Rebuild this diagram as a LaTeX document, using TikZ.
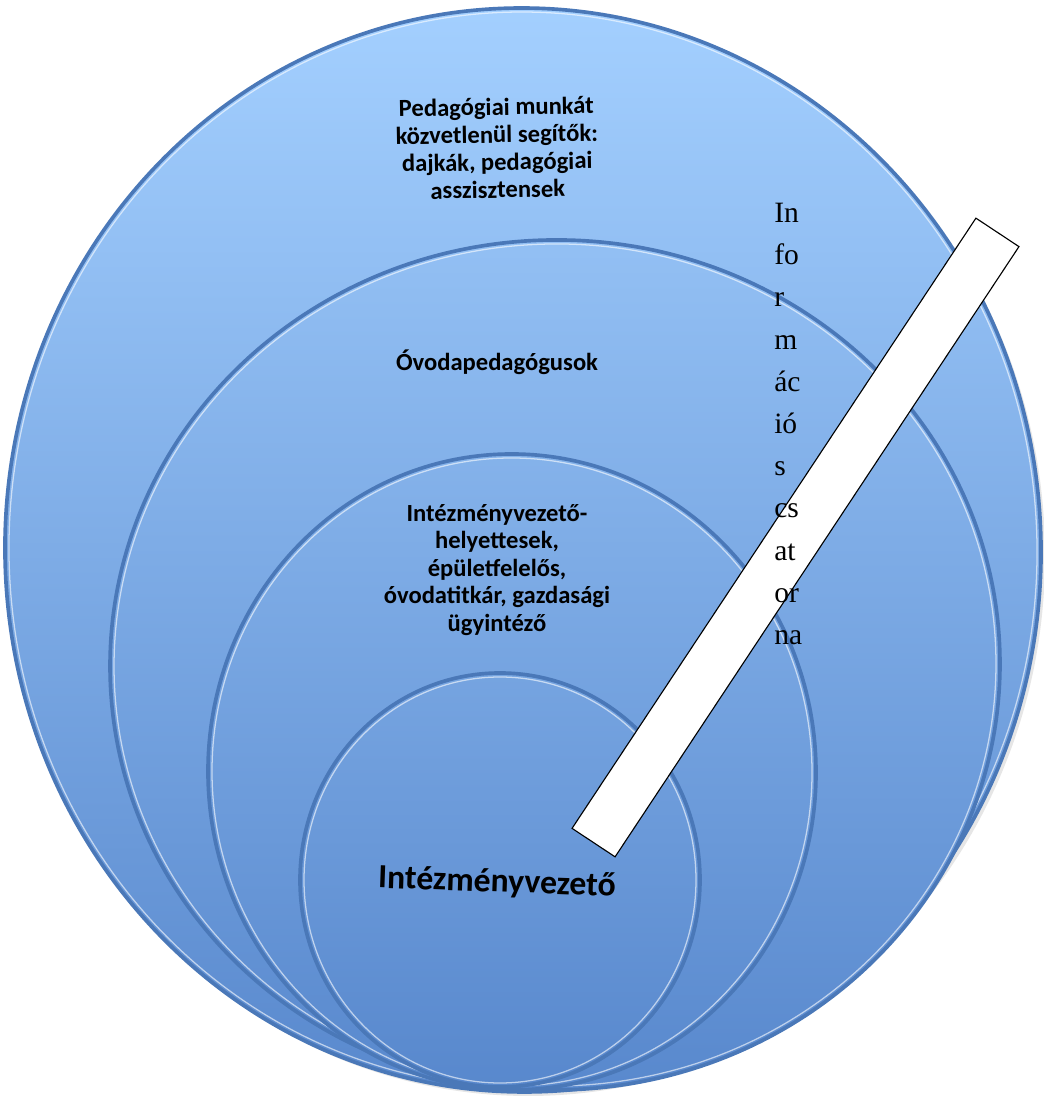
\documentclass[tikz,border=0pt]{standalone}
\usepackage{fontspec}
\setmainfont{Liberation Serif}
\newfontfamily\calibri{Carlito}
\definecolor{topblue}{HTML}{A4D0FF}
\definecolor{botblue}{HTML}{5888CD}
\definecolor{edgeblue}{HTML}{4A78B8}
\begin{document}
\begin{tikzpicture}[x=0.025cm,y=0.025cm,
  disc/.style={top color=botblue!#1!topblue,bottom color=botblue,draw=edgeblue,line width=2.6pt},
  rim/.style={draw=white,draw opacity=0.6,line width=0.9pt},
  ringtext/.style={font=\calibri\bfseries\fontsize{17.5}{19.6}\selectfont,align=center,inner sep=0pt}]
\useasboundingbox (0,0) rectangle (1044,1099);
% shadow and nested discs
\fill[gray,opacity=0.2,rotate around={2:(527,545)}] (527,545) ellipse [x radius=518,y radius=542];
\draw[disc=0,rotate around={2:(523,549)}] (523,549) ellipse [x radius=518,y radius=542];
\draw[rim,rotate around={2:(523,549)}] (523,549) ellipse [x radius=514,y radius=538];
\draw[disc=22,rotate around={2:(555,434)}] (555,434) ellipse [x radius=445,y radius=425];
\draw[rim,rotate around={2:(555,434)}] (555,434) ellipse [x radius=441,y radius=421];
\draw[disc=41,rotate around={1:(512,327)}] (512,327) ellipse [x radius=304,y radius=318];
\draw[rim,rotate around={1:(512,327)}] (512,327) ellipse [x radius=300,y radius=314];
\draw[disc=61] (500,219) ellipse [x radius=200,y radius=207];
\draw[rim] (500,219) ellipse [x radius=196,y radius=203];
% labels
\node[ringtext,rotate=1] (helpers) at (497,951) {Pedagógiai munkát\\közvetlenül segítők:\\dajkák, pedagógiai\\asszisztensek};
\node[ringtext] (teachers) at (497,737) {Óvodapedagógusok};
\node[ringtext] (deputies) at (497,529) {Intézményvezető-\\helyettesek,\\épületfelelős,\\óvodatitkár, gazdasági\\ügyintéző};
\node[ringtext,font=\calibri\bfseries\fontsize{24}{28}\selectfont,rotate=-2] (head) at (497,216) {Intézményvezető};
% information channel
\node[draw=black,fill=white,line width=0.8pt,minimum width=18.29cm,minimum height=1.29cm,inner sep=0pt,rotate=56.5] (channel) at (795.5,561.5) {};
\node[anchor=north west,align=left,inner sep=0pt,font=\fontsize{21}{30}\selectfont] (channeltext) at (774,896) {In\\fo\\r\\m\\ác\\ió\\s\\cs\\at\\or\\na};
\end{tikzpicture}
\end{document}
